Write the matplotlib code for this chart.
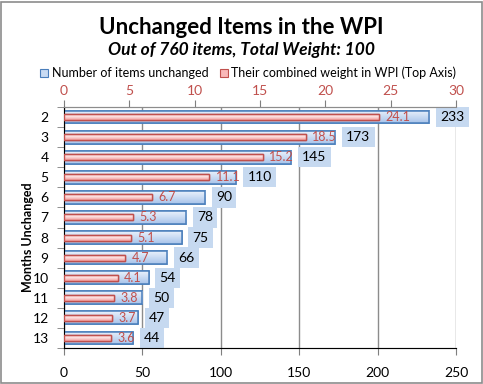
import matplotlib
matplotlib.use("Agg")
import matplotlib.pyplot as plt
from matplotlib.patches import Rectangle
from matplotlib.colors import LinearSegmentedColormap
import numpy as np

months = ["2", "3", "4", "5", "6", "7", "8", "9", "10", "11", "12", "13"]
items_unchanged = [233, 173, 145, 110, 90, 78, 75, 66, 54, 50, 47, 44]
weights = [24.1, 18.5, 15.2, 11.1, 6.7, 5.3, 5.1, 4.7, 4.1, 3.8, 3.7, 3.6]
bottom_ticks = [0, 50, 100, 150, 200, 250]
top_ticks = [0, 5, 10, 15, 20, 25, 30]

plt.rcParams['font.family'] = ['Lato', 'DejaVu Sans']

W, H = 483, 384
fig = plt.figure(figsize=(W / 100, H / 100), dpi=100)
fig.patches.append(Rectangle((0.002, 0.003), 0.995, 0.993, transform=fig.transFigure,
                             fill=False, edgecolor='#8c8c8c', linewidth=1.2))

left, right, top, bottom = 64, 456, 107, 348
ax = fig.add_axes([left / W, 1 - bottom / H, (right - left) / W, (bottom - top) / H])
ax2 = ax.twiny()

n = len(months)
y = np.arange(n)
blue_edge = '#4a7ebb'
red_edge = '#c0504d'

blue_cmap = LinearSegmentedColormap.from_list('b', ['#eaf1fb', '#c9dbf3', '#a7c3ea'])
red_cmap = LinearSegmentedColormap.from_list('r', ['#f6a9a9', '#fde3e3', '#f29c9c'])
grad = np.linspace(0, 1, 64).reshape(-1, 1)

ax.set_xlim(0, 250)
ax2.set_xlim(0, 30)
ax.set_ylim(n - 0.5, -0.5)
ax2.set_ylim(n - 0.5, -0.5)

bh = 0.64
bars = ax.barh(y, items_unchanged, height=bh, color='#c9dbf3', edgecolor=blue_edge,
               linewidth=1.1, zorder=3)
for b, yi, v in zip(bars, y, items_unchanged):
    im = ax.imshow(grad, extent=[0, v, yi + bh / 2, yi - bh / 2], aspect='auto',
                   cmap=blue_cmap, zorder=3.05, origin='upper')
    im.set_clip_path(b)
    ax.barh(yi, v, height=bh, color='none', edgecolor=blue_edge, linewidth=1.1, zorder=3.1)

rh = 0.3
rbars = ax2.barh(y, weights, height=rh, color='#f9b8b8', edgecolor=red_edge,
                 linewidth=1.0, zorder=4)
for b, yi, w in zip(rbars, y, weights):
    im = ax2.imshow(grad, extent=[0, w, yi + rh / 2, yi - rh / 2], aspect='auto',
                    cmap=red_cmap, zorder=4.05, origin='upper')
    im.set_clip_path(b)
    ax2.barh(yi, w, height=rh, color='none', edgecolor=red_edge, linewidth=1.0, zorder=4.1)

ax.set_xlim(0, 250)
ax2.set_xlim(0, 30)
ax.set_ylim(n - 0.5, -0.5)
ax2.set_ylim(n - 0.5, -0.5)

ax.set_xticks(bottom_ticks)
ax.set_xticklabels([str(t) for t in bottom_ticks], fontsize=10)
ax2.set_xticks(top_ticks)
ax2.set_xticklabels([str(t) for t in top_ticks], fontsize=10, color='#c0504d')

ax.set_yticks(y)
ax.set_yticklabels(months, fontsize=10)
ax.set_yticks(np.arange(-0.5, n, 1), minor=True)
ax.tick_params(axis='y', which='major', length=0, pad=11)
ax.tick_params(axis='y', which='minor', length=5, color='#7f7f7f', direction='out')
ax.tick_params(axis='x', length=5, color='#7f7f7f', direction='out', pad=9)
ax2.tick_params(axis='x', length=5, color='#7f7f7f', direction='out', pad=2.5)

ax.grid(axis='x', color='#8c8c8c', linewidth=1.0, zorder=0)
ax.set_axisbelow(True)
for s in ['left', 'bottom', 'top']:
    ax.spines[s].set_color('#8c8c8c')
ax.spines['right'].set_visible(False)
ax2.spines['right'].set_visible(False)
ax2.spines['top'].set_color('#8c8c8c')

for yi, v in zip(y, items_unchanged):
    ax.text(v + 7, yi, str(v), va='center', ha='left', fontsize=10, color='black',
            zorder=5,
            bbox=dict(boxstyle='square,pad=0.3', facecolor='#c6d9f0', edgecolor='none'))

for yi, w in zip(y, weights):
    ax2.text(w + 0.5, yi, f"{w:.1f}", va='center', ha='left', fontsize=9,
             color='#c0504d', zorder=6)

ax.set_ylabel("Months Unchanged", fontsize=9, fontweight='bold')
ax.yaxis.set_label_coords(-30 / (right - left), 0.46)

fig.text(0.5, 1 - 28 / H, "Unchanged Items in the WPI", ha='center', va='center',
         fontsize=16, fontweight='bold')
fig.text(0.5, 1 - 50 / H, "Out of 760 items, Total Weight: 100", ha='center', va='center',
         fontsize=12.5, fontweight='bold', style='italic')

# legend
ly = 1 - 73 / H
fig.patches.append(Rectangle((40 / W, ly - 4 / H), 8 / W, 8 / H, transform=fig.transFigure,
                             facecolor='#c9dbf3', edgecolor=blue_edge, linewidth=0.8))
fig.text(52 / W, ly, "Number of items unchanged", ha='left', va='center', fontsize=9)
fig.patches.append(Rectangle((220 / W, ly - 4 / H), 8 / W, 8 / H, transform=fig.transFigure,
                             facecolor='#f9b8b8', edgecolor=red_edge, linewidth=0.8))
fig.text(231 / W, ly, "Their combined weight in WPI (Top Axis)", ha='left', va='center',
         fontsize=9)

fig.savefig("out.png", dpi=100)
